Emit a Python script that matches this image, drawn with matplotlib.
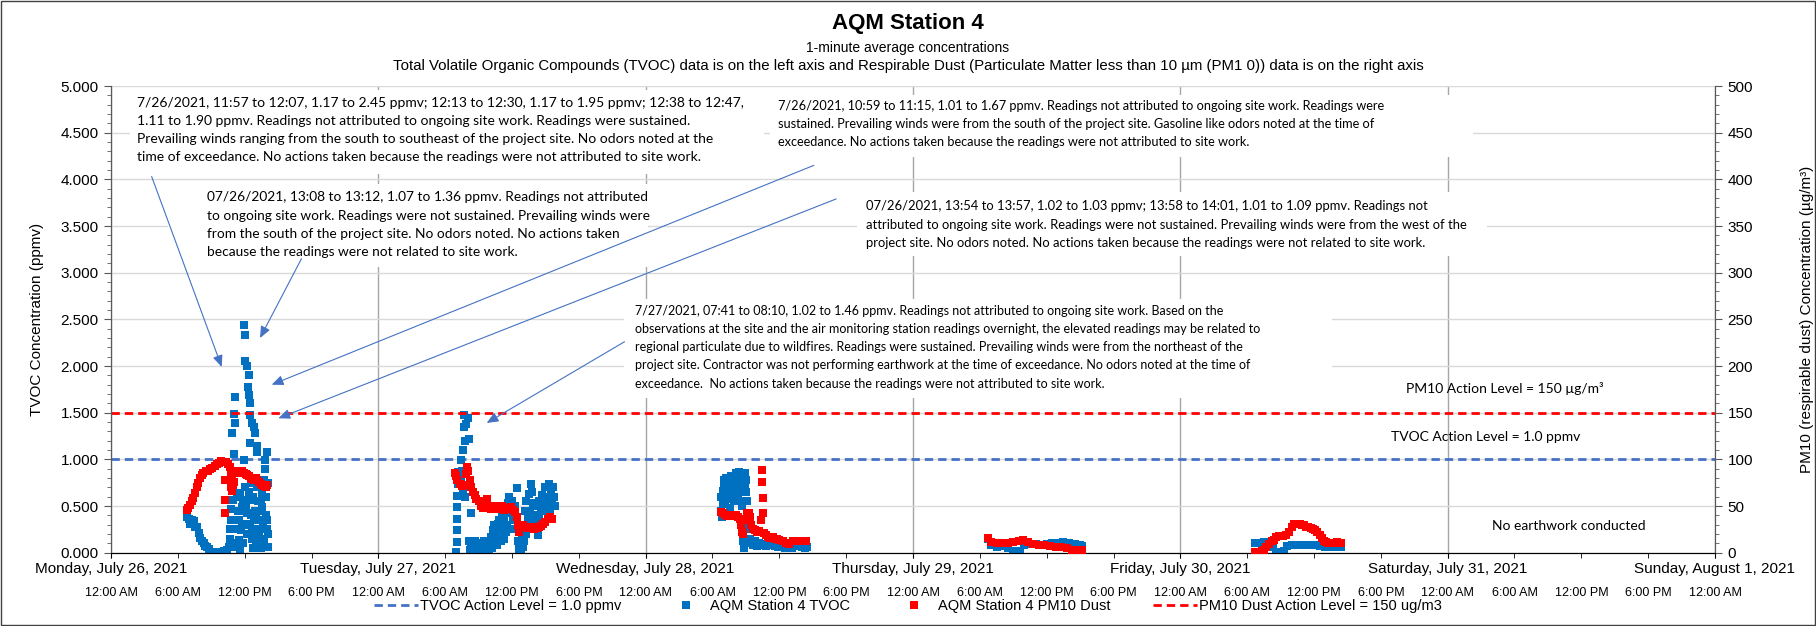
import numpy as np
import matplotlib.pyplot as plt
from matplotlib.ticker import MultipleLocator, FixedLocator, FixedFormatter

# hours after Monday, July 26, 2021 12:00 AM
# TVOC (ppmv), one list of (hour of day, value) per day
tvoc_jul26 = [(6.85, 0.38), (6.96, 0.36), (7.11, 0.31), (7.26, 0.35), (7.41, 0.34), (7.56, 0.28),
              (7.71, 0.27), (7.86, 0.21), (8.01, 0.16), (8.16, 0.13), (8.31, 0.10), (8.46, 0.07),
              (8.61, 0.06), (8.76, 0.04), (8.91, 0.01), (9.06, 0.00), (9.21, 0.00), (9.36, 0.01),
              (9.51, 0.00), (9.66, 0.00), (9.81, 0.01), (9.96, 0.00), (10.11, 0.02), (10.26, 0.00),
              (10.41, 0.03), (10.56, 0.06), (10.71, 0.15), (10.76, 0.47), (10.86, 0.06), (10.90, 1.28),
              (10.95, 0.56), (11.01, 1.06), (11.05, 1.49), (11.10, 1.39), (11.16, 1.67), (11.20, 0.35),
              (11.25, 0.25), (11.30, 0.60), (11.40, 0.45), (11.46, 0.14), (11.55, 0.03), (11.61, 0.64),
              (11.70, 0.24), (11.76, 0.49), (11.85, 0.10), (11.88, 0.56), (11.93, 0.99), (11.98, 2.44),
              (12.03, 2.33), (12.06, 2.05), (12.10, 0.31), (12.15, 0.50), (12.21, 2.00), (12.25, 0.42),
              (12.30, 1.78), (12.36, 1.90), (12.40, 1.69), (12.44, 1.60), (12.48, 1.48), (12.52, 1.17),
              (12.55, 0.56), (12.60, 0.40), (12.66, 1.39), (12.70, 0.21), (12.75, 0.05), (12.81, 0.35),
              (12.85, 1.35), (12.90, 0.45), (12.96, 1.28), (13.00, 0.12), (13.11, 1.14), (13.15, 1.08),
              (13.20, 0.55), (13.26, 0.21), (13.30, 0.15), (13.35, 0.35), (13.41, 0.10), (13.50, 0.05),
              (13.56, 0.64), (13.60, 0.49), (13.65, 0.30), (13.71, 0.78), (13.80, 0.90), (13.86, 0.99),
              (13.95, 0.60), (14.01, 1.08), (14.03, 0.35), (14.06, 0.20), (14.10, 0.06),
              (10.65, 0.25), (10.80, 0.35), (11.35, 0.10), (11.50, 0.35), (11.65, 0.45), (11.80, 0.30),
              (12.00, 0.70), (12.20, 0.20), (12.35, 0.65), (12.45, 0.30), (12.58, 0.75), (12.62, 0.15),
              (12.78, 0.60), (12.88, 0.25), (13.05, 0.40), (13.10, 0.70), (13.25, 0.45), (13.45, 0.55),
              (13.52, 0.25), (13.75, 0.15), (13.90, 0.40), (13.98, 0.25), (14.08, 0.75)]
tvoc_jul27 = [(7.00, 0.01), (7.02, 0.11), (7.04, 0.24), (7.06, 0.36), (7.08, 0.49), (7.10, 0.61),
              (7.12, 0.74), (7.14, 0.86), (7.41, 0.99), (7.45, 0.78), (7.50, 0.88), (7.56, 1.10),
              (7.60, 0.67), (7.66, 1.35), (7.71, 1.47), (7.75, 1.20), (7.80, 0.60), (7.86, 1.38),
              (8.01, 1.44), (8.10, 0.13), (8.16, 1.22), (8.25, 0.03), (8.31, 0.42), (8.46, 0.03),
              (8.60, 0.08), (8.76, 0.01), (8.90, 0.05), (9.06, 0.01), (9.20, 0.10), (9.36, 0.04),
              (9.50, 0.02), (9.66, 0.06), (9.81, 0.11), (9.95, 0.03), (10.11, 0.17), (10.26, 0.24),
              (10.40, 0.10), (10.56, 0.28), (10.71, 0.31), (10.86, 0.20), (11.00, 0.12), (11.16, 0.29),
              (11.31, 0.38), (11.45, 0.22), (11.61, 0.53), (11.76, 0.60), (11.91, 0.45), (12.06, 0.35),
              (12.20, 0.25), (12.42, 0.69), (12.51, 0.13), (12.66, 0.03), (12.81, 0.01), (12.96, 0.06),
              (13.10, 0.12), (13.26, 0.20), (13.41, 0.38), (13.56, 0.63), (13.71, 0.74), (13.86, 0.53),
              (14.00, 0.40), (14.16, 0.28), (14.31, 0.19), (14.46, 0.38), (14.60, 0.45), (14.76, 0.49),
              (14.90, 0.60), (15.06, 0.56), (15.21, 0.70), (15.36, 0.74), (15.51, 0.63), (15.66, 0.70),
              (8.35, 0.08), (8.55, 0.00), (8.70, 0.12), (8.85, 0.02), (9.00, 0.10), (9.15, 0.00),
              (9.30, 0.08), (9.45, 0.12), (9.60, 0.00), (9.75, 0.05), (10.00, 0.08), (10.20, 0.05),
              (10.35, 0.30), (10.50, 0.15), (10.65, 0.08), (10.80, 0.35), (10.95, 0.25), (11.10, 0.40),
              (11.25, 0.15), (11.40, 0.45), (11.55, 0.30), (11.70, 0.42), (11.85, 0.25), (12.00, 0.55),
              (12.15, 0.40), (12.30, 0.50), (12.60, 0.10), (12.90, 0.15), (13.00, 0.30), (13.15, 0.45),
              (13.30, 0.55), (13.50, 0.30), (13.65, 0.45), (13.80, 0.65), (13.95, 0.35), (14.10, 0.50),
              (14.25, 0.40), (14.40, 0.55), (14.55, 0.30), (14.70, 0.62), (14.85, 0.45), (15.00, 0.70),
              (15.15, 0.50), (15.30, 0.60), (15.45, 0.45), (15.60, 0.55), (15.75, 0.60), (15.85, 0.50)]
tvoc_jul28 = [(6.75, 0.60), (6.80, 0.45), (6.85, 0.38), (6.95, 0.66), (7.05, 0.78), (7.15, 0.55),
              (7.25, 0.80), (7.35, 0.62), (7.45, 0.72), (7.55, 0.48), (7.65, 0.75), (7.80, 0.70),
              (7.95, 0.55), (8.10, 0.85), (8.20, 0.78), (8.30, 0.62), (8.40, 0.86), (8.50, 0.80),
              (8.60, 0.70), (8.65, 0.50), (8.70, 0.30), (8.75, 0.12), (8.80, 0.05), (8.90, 0.85),
              (9.00, 0.78), (9.10, 0.55), (9.20, 0.40), (9.30, 0.25), (9.35, 0.15), (9.45, 0.10),
              (9.60, 0.08), (9.80, 0.12), (10.00, 0.07), (10.20, 0.10), (10.40, 0.08), (10.60, 0.09),
              (10.80, 0.07), (11.00, 0.09), (11.30, 0.08), (11.60, 0.07), (11.90, 0.06), (12.20, 0.07),
              (12.50, 0.05), (12.80, 0.06), (13.10, 0.05), (13.40, 0.07), (13.70, 0.08), (14.00, 0.06),
              (14.30, 0.05), (14.50, 0.06),
              (6.90, 0.52), (7.00, 0.70), (7.20, 0.68), (7.40, 0.58), (7.60, 0.62), (7.70, 0.82),
              (7.90, 0.78), (8.00, 0.65), (8.15, 0.72), (8.35, 0.75), (8.45, 0.68), (8.55, 0.55),
              (8.95, 0.72), (9.05, 0.65)]
tvoc_jul29 = [(6.7, 0.15), (7.0, 0.08), (7.5, 0.06), (8.0, 0.07), (8.5, 0.05), (9.0, 0.02),
              (9.3, 0.00), (9.6, 0.02), (10.0, 0.08), (10.5, 0.09), (11.0, 0.09), (11.5, 0.08),
              (12.0, 0.09), (12.5, 0.10), (13.0, 0.10), (13.5, 0.11), (14.0, 0.10), (14.5, 0.09),
              (15.0, 0.08), (15.2, 0.07)]
tvoc_jul30 = [(6.7, 0.10), (7.0, 0.10), (7.5, 0.11), (8.0, 0.11), (8.3, 0.06), (8.6, 0.01),
              (9.0, 0.00), (9.3, 0.02), (9.6, 0.07), (10.0, 0.08), (10.5, 0.08), (11.0, 0.08),
              (11.5, 0.08), (12.0, 0.08), (12.5, 0.07), (13.0, 0.06), (13.5, 0.06), (14.0, 0.06),
              (14.4, 0.06)]

# PM10 (ug/m3)
pm10_jul26 = [(6.80, 46), (6.95, 48), (7.10, 51), (7.25, 55), (7.40, 59), (7.55, 64), (7.70, 70),
              (7.85, 75), (8.00, 80), (8.15, 83), (8.30, 85), (8.50, 87), (8.70, 88), (8.90, 90),
              (9.10, 91), (9.30, 93), (9.50, 95), (9.70, 96), (9.90, 98), (10.10, 97), (10.20, 78),
              (10.22, 56), (10.25, 42), (10.35, 97), (10.50, 95), (10.65, 92), (10.75, 85), (10.80, 70),
              (10.85, 78), (10.90, 66), (10.95, 72), (11.05, 76), (11.20, 85), (11.35, 87), (11.50, 88),
              (11.65, 86), (11.80, 87), (11.95, 85), (12.10, 84), (12.25, 83), (12.40, 82), (12.55, 80),
              (12.70, 79), (12.85, 78), (13.00, 80), (13.15, 78), (13.30, 76), (13.45, 74), (13.60, 72),
              (13.75, 71), (13.90, 70), (14.00, 72)]
pm10_jul27 = [(6.85, 85), (6.95, 82), (7.10, 78), (7.30, 74), (7.50, 71), (7.70, 72), (7.85, 84),
              (7.95, 92), (8.05, 88), (8.20, 78), (8.35, 70), (8.50, 65), (8.65, 62), (8.80, 58),
              (9.00, 55), (9.20, 50), (9.40, 48), (9.60, 52), (9.80, 57), (9.95, 50), (10.10, 47),
              (10.30, 49), (10.50, 50), (10.70, 47), (10.90, 48), (11.10, 50), (11.30, 46), (11.50, 47),
              (11.70, 48), (11.90, 49), (12.10, 46), (12.30, 44), (12.45, 38), (12.55, 30), (12.65, 22),
              (12.80, 28), (13.00, 30), (13.20, 27), (13.40, 26), (13.60, 28), (13.80, 27), (14.00, 25),
              (14.20, 26), (14.40, 27), (14.60, 29), (14.80, 31), (15.00, 33), (15.20, 36), (15.40, 38),
              (15.60, 36)]
pm10_jul28 = [(6.75, 44), (6.90, 42), (7.10, 40), (7.30, 39), (7.50, 40), (7.70, 40), (7.90, 39),
              (8.10, 40), (8.30, 38), (8.50, 36), (8.60, 30), (8.65, 22), (8.70, 20), (8.90, 35),
              (9.10, 42), (9.30, 43), (9.40, 38), (9.50, 30), (9.60, 25), (9.80, 24), (10.00, 22),
              (10.20, 23), (10.35, 35), (10.45, 89), (10.47, 76), (10.50, 59), (10.52, 43), (10.60, 21),
              (10.80, 19), (11.00, 17), (11.20, 16), (11.40, 17), (11.60, 15), (11.80, 15), (12.00, 14),
              (12.30, 13), (12.60, 10), (12.90, 9), (13.20, 12), (13.50, 13), (13.80, 12), (14.10, 12),
              (14.40, 12)]
pm10_jul29 = [(6.7, 15.4), (7.0, 11.4), (7.5, 10.7), (8.0, 10.7), (8.5, 10.7), (9.0, 11.4),
              (9.5, 12.0), (9.9, 13.6), (10.3, 11.4), (10.8, 8.9), (11.3, 8.2), (11.8, 7.9),
              (12.3, 7.1), (12.8, 6.4), (13.3, 5.7), (13.8, 4.6), (14.3, 2.9), (14.8, 2.9), (15.2, 2.9)]
pm10_jul30 = [(6.7, 1), (7.0, 1), (7.3, 2), (7.5, 3), (7.7, 6), (8.0, 9), (8.2, 12), (8.4, 14),
              (8.6, 17), (8.9, 18), (9.2, 18), (9.5, 19), (9.8, 22), (10.0, 27), (10.2, 31), (10.4, 31),
              (10.7, 31), (10.9, 30), (11.1, 30), (11.3, 28), (11.5, 27), (11.7, 26), (11.9, 25),
              (12.1, 24), (12.3, 22), (12.5, 19), (12.7, 16), (12.9, 13), (13.1, 11), (13.3, 10),
              (13.6, 10), (13.9, 10), (14.1, 11), (14.4, 10)]

tvoc_days = [tvoc_jul26, tvoc_jul27, tvoc_jul28, tvoc_jul29, tvoc_jul30]
pm10_days = [pm10_jul26, pm10_jul27, pm10_jul28, pm10_jul29, pm10_jul30]

tvoc_action = 1.0
pm10_action = 150

day_labels = ['Monday, July 26, 2021', 'Tuesday, July 27, 2021', 'Wednesday, July 28, 2021',
              'Thursday, July 29, 2021', 'Friday, July 30, 2021', 'Saturday, July 31, 2021',
              'Sunday, August 1, 2021']
hour_labels = ['12:00 AM', '6:00 AM', '12:00 PM', '6:00 PM']

notes = [
    "7/26/2021, 11:57 to 12:07, 1.17 to 2.45 ppmv; 12:13 to 12:30, 1.17 to 1.95 ppmv; 12:38 to 12:47,\n"
    "1.11 to 1.90 ppmv. Readings not attributed to ongoing site work. Readings were sustained.\n"
    "Prevailing winds ranging from the south to southeast of the project site. No odors noted at the\n"
    "time of exceedance. No actions taken because the readings were not attributed to site work.",
    "07/26/2021, 13:08 to 13:12, 1.07 to 1.36 ppmv. Readings not attributed\n"
    "to ongoing site work. Readings were not sustained. Prevailing winds were\n"
    "from the south of the project site. No odors noted. No actions taken\n"
    "because the readings were not related to site work.",
    "7/26/2021, 10:59 to 11:15, 1.01 to 1.67 ppmv. Readings not attributed to ongoing site work. Readings were\n"
    "sustained. Prevailing winds were from the south of the project site. Gasoline like odors noted at the time of\n"
    "exceedance. No actions taken because the readings were not attributed to site work.",
    "07/26/2021, 13:54 to 13:57, 1.02 to 1.03 ppmv; 13:58 to 14:01, 1.01 to 1.09 ppmv. Readings not\n"
    "attributed to ongoing site work. Readings were not sustained. Prevailing winds were from the west of the\n"
    "project site. No odors noted. No actions taken because the readings were not related to site work.",
    "7/27/2021, 07:41 to 08:10, 1.02 to 1.46 ppmv. Readings not attributed to ongoing site work. Based on the\n"
    "observations at the site and the air monitoring station readings overnight, the elevated readings may be related to\n"
    "regional particulate due to wildfires. Readings were sustained. Prevailing winds were from the northeast of the\n"
    "project site. Contractor was not performing earthwork at the time of exceedance. No odors noted at the time of\n"
    "exceedance.  No actions taken because the readings were not attributed to site work.",
]
note_pos = [(0.0162, 0.977), (0.0599, 0.774), (0.416, 0.971), (0.4707, 0.755), (0.3267, 0.531)]
note_size = [10, 9.9, 9.2, 9.4, 9.0]
# white text box areas (axes fraction: x0, y0, x1, y1)
note_box = [(0.012, 0.812, 0.407, 0.991), (0.0355, 0.612, 0.335, 0.790),
            (0.411, 0.848, 0.849, 0.980), (0.465, 0.636, 0.858, 0.772),
            (0.320, 0.332, 0.761, 0.543)]
arrow_tails = [(3.65, 4.03), (17.1, 3.15), (63.1, 4.15), (65.1, 3.79), (46.1, 2.26)]
arrow_heads = [(9.94, 1.99), (13.38, 2.30), (14.43, 1.80), (15.03, 1.44), (33.73, 1.39)]

tvoc_blue = '#0070C0'
line_blue = '#4472C4'
red = '#FF0000'
plt.rcParams['font.family'] = ['Liberation Sans', 'DejaVu Sans']

fig = plt.figure(figsize=(18.16, 6.26), dpi=100)
ax = fig.add_axes([111 / 1816, 1 - 552.7 / 626, 1604 / 1816, 466.7 / 626])
ax2 = ax.twinx()

tv_x, tv_y, pm_x, pm_y = [], [], [], []
for d, pts in enumerate(tvoc_days):
    for h, v in pts:
        tv_x.append(24 * d + h)
        tv_y.append(v)
for d, pts in enumerate(pm10_days):
    for h, v in pts:
        pm_x.append(24 * d + h)
        pm_y.append(v)

ax.axhline(tvoc_action, color=line_blue, lw=2, dashes=(3, 1.8), zorder=2)
ax.plot(tv_x, tv_y, 's', color=tvoc_blue, ms=6, mew=0, zorder=3)
ax2.axhline(pm10_action, color=red, lw=2, dashes=(3, 1.8), zorder=2)
ax2.plot(pm_x, pm_y, 's', color=red, ms=6, mew=0, zorder=3)

ax.set_xlim(0, 144)
ax.set_ylim(0, 5)
ax2.set_ylim(0, 500)

ax.yaxis.set_major_locator(MultipleLocator(0.5))
ax.yaxis.set_minor_locator(MultipleLocator(0.1))
ax.yaxis.set_major_formatter(lambda v, p: '%.3f' % v)
ax2.yaxis.set_major_locator(MultipleLocator(50))
ax2.yaxis.set_minor_locator(MultipleLocator(10))

ax.xaxis.set_major_locator(FixedLocator(np.arange(0, 145, 24)))
ax.xaxis.set_major_formatter(FixedFormatter(day_labels))
ax.xaxis.set_minor_locator(FixedLocator(np.arange(0, 145, 6)))
ax.xaxis.set_minor_formatter(FixedFormatter([hour_labels[i % 4] for i in range(25)]))
ax.xaxis.remove_overlapping_locs = False

ax.tick_params(axis='x', which='major', length=3.5, pad=3.5, labelsize=11)
ax.tick_params(axis='x', which='minor', length=3.5, pad=21, labelsize=9)
ax.tick_params(axis='y', which='major', length=5, pad=4, labelsize=11, color='#595959')
ax.tick_params(axis='y', which='minor', length=3, color='#595959')
ax2.tick_params(axis='y', which='major', length=5, pad=4, labelsize=11, color='#595959')
ax2.tick_params(axis='y', which='minor', length=3, color='#595959')

ax.grid(axis='y', which='major', color='#D9D9D9', lw=1)
ax.grid(axis='x', which='major', color='#A6A6A6', lw=1)
ax.set_axisbelow(True)
for a in (ax, ax2):
    a.spines['top'].set_visible(False)
    a.spines['left'].set_color('#595959')
    a.spines['right'].set_color('#595959')
    a.spines['bottom'].set_color('black')

ax.set_ylabel('TVOC Concentration (ppmv)', fontsize=11)
ax.yaxis.set_label_coords(-0.0418, 0.5)
ax2.set_ylabel('PM10 (respirable dust) Concentration (µg/m³)', fontsize=11, rotation=90)
ax2.yaxis.set_label_coords(1.053, 0.5)

for (x0, y0, x1, y1) in note_box:
    ax.add_patch(plt.Rectangle((x0, y0), x1 - x0, y1 - y0, transform=ax.transAxes,
                               fc='white', ec='none', zorder=1.5))
for txt, (px, py), fs in zip(notes, note_pos, note_size):
    ax2.text(px, py, txt, transform=ax.transAxes, ha='left', va='top', fontsize=fs,
             family='Lato', linespacing=1.62, zorder=5)
for tail, head in zip(arrow_tails, arrow_heads):
    ax2.annotate('', xy=head, xytext=tail, xycoords=ax.transData, textcoords=ax.transData,
                 arrowprops=dict(arrowstyle='-|>,head_length=0.7,head_width=0.3',
                                 color=line_blue, lw=0.8, shrinkA=0, shrinkB=0), zorder=6)

ax2.text(0.869, 0.351, 'PM10 Action Level = 150 µg/m³', transform=ax.transAxes,
         ha='center', va='center', fontsize=10, family='Lato')
ax2.text(0.857, 0.248, 'TVOC Action Level = 1.0 ppmv', transform=ax.transAxes,
         ha='center', va='center', fontsize=10, family='Lato')
ax2.text(0.909, 0.057, 'No earthwork conducted', transform=ax.transAxes,
         ha='center', va='center', fontsize=10, family='Lato')

fig.text(0.5, 0.963, 'AQM Station 4', ha='center', va='center', fontsize=16, fontweight='bold')
fig.text(0.5, 0.924, '1-minute average concentrations', ha='center', va='center', fontsize=10)
fig.text(0.5, 0.895, 'Total Volatile Organic Compounds (TVOC) data is on the left axis and Respirable Dust '
         '(Particulate Matter less than 10 µm (PM1 0)) data is on the right axis',
         ha='center', va='center', fontsize=10.8)

h_tv_line = plt.Line2D([], [], color=line_blue, lw=2, dashes=(3, 1.8))
h_tv = plt.Line2D([], [], ls='none', marker='s', color=tvoc_blue, ms=6, mew=0)
h_pm = plt.Line2D([], [], ls='none', marker='s', color=red, ms=6, mew=0)
h_pm_line = plt.Line2D([], [], color=red, lw=2, dashes=(3, 1.8))
fig.legend([h_tv_line, h_tv, h_pm, h_pm_line],
           ['TVOC Action Level = 1.0 ppmv', 'AQM Station 4 TVOC', 'AQM Station 4 PM10 Dust',
            'PM10 Dust Action Level = 150 ug/m3'],
           loc='center', bbox_to_anchor=(0.5, 0.032), ncol=4, frameon=False, fontsize=10.5,
           handlelength=3, handletextpad=0.15, columnspacing=2.9)

fig.patches.append(plt.Rectangle((0.0008, 0.0015), 0.9984, 0.997, transform=fig.transFigure,
                                 fill=False, ec='#404040', lw=1))

plt.savefig('out.png', dpi=100)
